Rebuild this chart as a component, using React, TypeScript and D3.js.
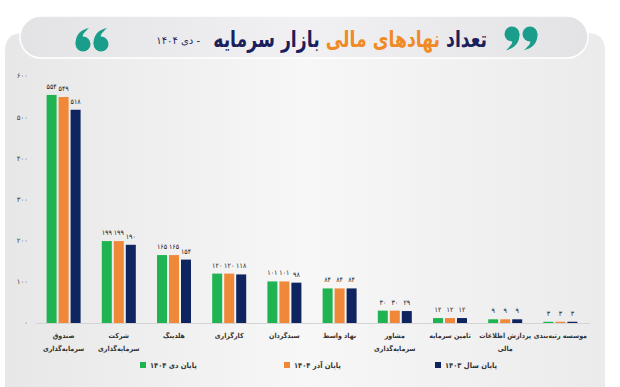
import React from "react";
import * as d3 from "d3";

const categories = [
  "صندوق\nسرمایه‌گذاری",
  "شرکت\nسرمایه‌گذاری",
  "هلدینگ",
  "کارگزاری",
  "سبدگردان",
  "نهاد واسط",
  "مشاور\nسرمایه‌گذاری",
  "تامین سرمایه",
  "پردازش اطلاعات\nمالی",
  "موسسه رتبه‌بندی",
];
const seriesNames = ["پایان دی ۱۴۰۴", "پایان آذر ۱۴۰۴", "پایان سال ۱۴۰۳"];
const dey1404 = [554, 199, 165, 120, 101, 84, 30, 12, 9, 3];
const azar1404 = [549, 199, 165, 120, 101, 84, 30, 12, 9, 3];
const end1403 = [518, 190, 154, 118, 98, 84, 29, 12, 9, 3];
const yTicks = [0, 100, 200, 300, 400, 500, 600];
const colors = ["#1fb451", "#f0883a", "#0e2560"];

const FONT = "'DejaVu Sans', sans-serif";
const CFONT = "'DejaVu Sans Condensed', 'DejaVu Sans', sans-serif";
const fa = (n: number) => String(n).replace(/\d/g, (d) => "۰۱۲۳۴۵۶۷۸۹"[+d]);

function Quote9({ cx, cy, r, rot, fill }: { cx: number; cy: number; r: number; rot: number; fill: string }) {
  const p = `M ${r} 0 C ${r} ${1.3 * r}, ${0.3 * r} ${1.9 * r}, ${-0.8 * r} ${2.15 * r} C ${-0.2 * r} ${1.6 * r}, ${0.15 * r} ${1.2 * r}, 0 ${0.95 * r} Z`;
  return (
    <g transform={`translate(${cx},${cy}) rotate(${rot})`} fill={fill}>
      <circle r={r} />
      <path d={p} />
    </g>
  );
}

export default function App() {
  const W = 620, H = 387;
  const series = [dey1404, azar1404, end1403];
  const x0 = d3.scaleBand<string>().domain(categories).range([36, 588]).padding(0);
  const bw = x0.bandwidth();
  const x1 = d3
    .scaleBand<number>()
    .domain([0, 1, 2])
    .range([(bw - 34) / 2, (bw + 34) / 2])
    .paddingInner(1 / 6)
    .paddingOuter(0);
  const y = d3.scaleLinear().domain([0, 600]).range([323, 76]);

  const cardPath = `M5 387 L5 51 Q5 33 23 33 L587 33 Q605 33 605 51 L605 387 Z`;

  const legendX = [140, 284, 435];

  return (
    <svg width={W} height={H} style={{ position: "absolute", left: 0, top: 0, display: "block" }} fontFamily={FONT}>
      <defs>
        <linearGradient id="cardG" x1="0" x2="1" y1="0" y2="0">
          <stop offset="0" stopColor="#e7e7e8" />
          <stop offset="0.5" stopColor="#f7f7f7" />
          <stop offset="1" stopColor="#ebebec" />
        </linearGradient>
        <linearGradient id="pillG" x1="0" x2="1" y1="0" y2="0">
          <stop offset="0" stopColor="#e3e3e6" />
          <stop offset="0.5" stopColor="#f1f1f3" />
          <stop offset="1" stopColor="#e3e3e6" />
        </linearGradient>
      </defs>
      <rect width={W} height={H} fill="#ffffff" />
      <path d={cardPath} fill="url(#cardG)" />
      <rect x={20} y={16} width={568} height={42} rx={21} fill="url(#pillG)" stroke="#ffffff" strokeWidth={1.5} />

      {/* quote marks */}
      <Quote9 cx={83} cy={44} r={7.5} rot={180} fill="#1a9e8b" />
      <Quote9 cx={101} cy={44} r={7.5} rot={180} fill="#1a9e8b" />
      <Quote9 cx={512} cy={34} r={7.5} rot={0} fill="#1a9e8b" />
      <Quote9 cx={530} cy={34} r={7.5} rot={0} fill="#1a9e8b" />

      {/* title */}
      <g transform="translate(487,47) scale(0.75,1)">
        <text x={0} y={0} direction="rtl" textAnchor="start" fontWeight="bold" fontSize={23} fill="#1b1f5c">
          <tspan>تعداد </tspan>
          <tspan fill="#f08a24">نهادهای مالی</tspan>
          <tspan> بازار سرمایه</tspan>
        </text>
      </g>
      <text x={200} y={44} direction="rtl" textAnchor="start" fontSize={10} fill="#1b1f5c">
        - دی ۱۴۰۴
      </text>

      {/* axis line */}
      <line x1={36} x2={590} y1={323.5} y2={323.5} stroke="#d4d4d4" strokeWidth={1} />

      {/* y tick labels */}
      {yTicks.map((t) => (
        <text key={t} x={28} y={y(t)} dy="0.35em" textAnchor="end" fontSize={7} fill="#444">
          {fa(t)}
        </text>
      ))}

      {/* bars */}
      {categories.map((c, ci) => (
        <g key={c} transform={`translate(${x0(c)},0)`}>
          {series.map((s, si) => (
            <g key={si}>
              <rect
                x={x1(si)}
                y={y(s[ci])}
                width={x1.bandwidth()}
                height={y(0) - y(s[ci])}
                fill={colors[si]}
              />
              <text
                x={(x1(si) as number) + x1.bandwidth() / 2}
                y={y(s[ci]) - 6}
                textAnchor="middle"
                fontFamily={CFONT}
                fontSize={7}
                fill="#222"
              >
                {fa(s[ci])}
              </text>
            </g>
          ))}
          {c.split("\n").map((line, li) => (
            <text
              key={li}
              x={bw / 2}
              y={338 + li * 13}
              textAnchor="middle"
              direction="rtl"
              fontFamily={CFONT}
              fontSize={7}
              fontWeight="bold"
              fill="#333"
            >
              {line}
            </text>
          ))}
        </g>
      ))}

      {/* legend */}
      {seriesNames.map((n, i) => (
        <g key={n} transform={`translate(${legendX[i]},367)`}>
          <rect x={0} y={-5} width={6} height={6} fill={colors[i]} />
          <text x={10} y={0} dy="0.1em" direction="rtl" textAnchor="end" fontFamily={CFONT} fontSize={7.5} fontWeight="bold" fill="#333">
            {n}
          </text>
        </g>
      ))}
    </svg>
  );
}
